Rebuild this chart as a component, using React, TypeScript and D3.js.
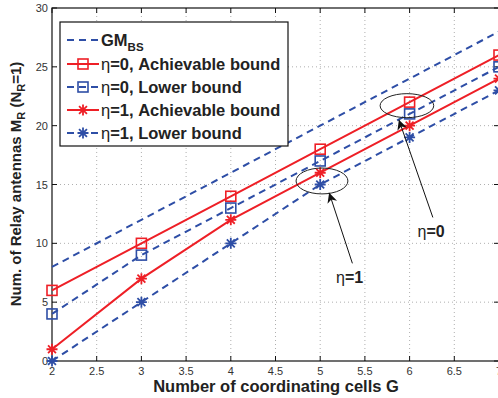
import { useEffect, useRef } from "react";
import * as d3 from "d3";

// number of coordinating cells G
const gValues = [2, 3, 4, 5, 6, 7];

// relay antennas per series
const gmBS = [8, 12, 16, 20, 24, 28];
const eta0Achievable = [6, 10, 14, 18, 22, 26];
const eta0Lower = [4, 9, 13, 17, 21, 25];
const eta1Achievable = [1, 7, 12, 16, 20, 24];
const eta1Lower = [0, 5, 10, 15, 19, 23];

const xTicks = [2, 2.5, 3, 3.5, 4, 4.5, 5, 5.5, 6, 6.5, 7];
const yTicks = [0, 5, 10, 15, 20, 25, 30];

const RED = "#ee1f26";
const BLUE = "#2e4ea6";
const FONT = "'Liberation Sans', Arial, Helvetica, sans-serif";

type Series = {
  name: string;
  eta: string;
  values: number[];
  color: string;
  dashed: boolean;
  marker: "none" | "square" | "star";
};

const series: Series[] = [
  { name: "GM", eta: "", values: gmBS, color: BLUE, dashed: true, marker: "none" },
  { name: "=0, Achievable bound", eta: "η", values: eta0Achievable, color: RED, dashed: false, marker: "square" },
  { name: "=0, Lower bound", eta: "η", values: eta0Lower, color: BLUE, dashed: true, marker: "square" },
  { name: "=1, Achievable bound", eta: "η", values: eta1Achievable, color: RED, dashed: false, marker: "star" },
  { name: "=1, Lower bound", eta: "η", values: eta1Lower, color: BLUE, dashed: true, marker: "star" },
];

function drawMarker(g: any, kind: string, cx: number, cy: number, color: string) {
  if (kind === "square") {
    g.append("rect")
      .attr("x", cx - 5)
      .attr("y", cy - 5)
      .attr("width", 10)
      .attr("height", 10)
      .attr("fill", "none")
      .attr("stroke", color)
      .attr("stroke-width", 1.6);
  } else if (kind === "star") {
    const r = 5.5;
    const d = r * 0.72;
    g.append("path")
      .attr(
        "d",
        `M${cx - r},${cy}L${cx + r},${cy}M${cx},${cy - r}L${cx},${cy + r}` +
          `M${cx - d},${cy - d}L${cx + d},${cy + d}M${cx - d},${cy + d}L${cx + d},${cy - d}`
      )
      .attr("stroke", color)
      .attr("stroke-width", 1.8)
      .attr("fill", "none");
  }
}

export default function App() {
  const ref = useRef<SVGSVGElement>(null);

  useEffect(() => {
    const svg = d3.select(ref.current);
    svg.selectAll("*").remove();

    const x = d3.scaleLinear().domain([2, 7]).range([52, 499]);
    const y = d3.scaleLinear().domain([0, 30]).range([361, 8]);

    svg.append("rect").attr("width", 498).attr("height", 398).attr("fill", "#fff");

    // grid
    const grid = svg.append("g").attr("stroke", "#9a9a9a").attr("stroke-width", 0.8).attr("stroke-dasharray", "1,3");
    xTicks.slice(1, -1).forEach((t) => {
      grid.append("line").attr("x1", x(t)).attr("x2", x(t)).attr("y1", y(0)).attr("y2", y(30));
    });
    yTicks.slice(1, -1).forEach((t) => {
      grid.append("line").attr("x1", x(2)).attr("x2", x(7)).attr("y1", y(t)).attr("y2", y(t));
    });

    // frame
    svg.append("rect")
      .attr("x", x(2))
      .attr("y", y(30))
      .attr("width", x(7) - x(2))
      .attr("height", y(0) - y(30))
      .attr("fill", "none")
      .attr("stroke", "#111")
      .attr("stroke-width", 1.2);

    // ticks inward on all sides
    const ticks = svg.append("g").attr("stroke", "#111").attr("stroke-width", 1);
    xTicks.forEach((t) => {
      ticks.append("line").attr("x1", x(t)).attr("x2", x(t)).attr("y1", y(0)).attr("y2", y(0) - 5);
      ticks.append("line").attr("x1", x(t)).attr("x2", x(t)).attr("y1", y(30)).attr("y2", y(30) + 5);
    });
    yTicks.forEach((t) => {
      ticks.append("line").attr("x1", x(2)).attr("x2", x(2) + 5).attr("y1", y(t)).attr("y2", y(t));
      ticks.append("line").attr("x1", x(7)).attr("x2", x(7) - 5).attr("y1", y(t)).attr("y2", y(t));
    });

    // tick labels
    xTicks.forEach((t) => {
      svg.append("text")
        .attr("x", x(t))
        .attr("y", 375)
        .attr("text-anchor", "middle")
        .attr("font-family", FONT)
        .attr("font-size", 11)
        .attr("fill", "#333")
        .text(String(t));
    });
    yTicks.forEach((t) => {
      svg.append("text")
        .attr("x", 48)
        .attr("y", y(t) + 4)
        .attr("text-anchor", "end")
        .attr("font-family", FONT)
        .attr("font-size", 11)
        .attr("fill", "#333")
        .text(String(t));
    });

    // series
    const line = d3
      .line<number>()
      .x((_, i) => x(gValues[i]))
      .y((d) => y(d));

    series.forEach((s) => {
      svg.append("path")
        .datum(s.values)
        .attr("d", line)
        .attr("fill", "none")
        .attr("stroke", s.color)
        .attr("stroke-width", 2)
        .attr("stroke-dasharray", s.dashed ? "7,5" : null);
      const mg = svg.append("g");
      s.values.forEach((v, i) => drawMarker(mg, s.marker, x(gValues[i]), y(v), s.color));
    });

    // annotations
    const defs = svg.append("defs");
    defs.append("marker")
      .attr("id", "arrow")
      .attr("viewBox", "0 0 10 10")
      .attr("refX", 10)
      .attr("refY", 5)
      .attr("markerWidth", 10)
      .attr("markerHeight", 10)
      .attr("markerUnits", "userSpaceOnUse")
      .attr("orient", "auto")
      .append("path")
      .attr("d", "M0,0L10,5L0,10L3,5Z")
      .attr("fill", "#111");

    const ellipses = [
      { cx: 5.97, cy: 21.7, rx: 0.3, ry: 1.02 },
      { cx: 5.02, cy: 15.3, rx: 0.29, ry: 1.1 },
    ];
    ellipses.forEach((e) => {
      svg.append("ellipse")
        .attr("cx", x(e.cx))
        .attr("cy", y(e.cy))
        .attr("rx", x(e.cx + e.rx) - x(e.cx))
        .attr("ry", y(e.cy - e.ry) - y(e.cy))
        .attr("fill", "none")
        .attr("stroke", "#222")
        .attr("stroke-width", 1);
    });

    const arrows = [
      { x1: 6.26, y1: 12.2, x2: 5.88, y2: 20.5 },
      { x1: 5.36, y1: 8.3, x2: 5.1, y2: 14.3 },
    ];
    arrows.forEach((a) => {
      svg.append("line")
        .attr("x1", x(a.x1))
        .attr("y1", y(a.y1))
        .attr("x2", x(a.x2))
        .attr("y2", y(a.y2))
        .attr("stroke", "#111")
        .attr("stroke-width", 1)
        .attr("marker-end", "url(#arrow)");
    });

    const notes = [
      { gx: 6.24, gy: 10.5, label: "=0" },
      { gx: 5.33, gy: 6.6, label: "=1" },
    ];
    notes.forEach((n) => {
      const t = svg.append("text")
        .attr("x", x(n.gx))
        .attr("y", y(n.gy))
        .attr("text-anchor", "middle")
        .attr("font-family", FONT)
        .attr("font-size", 16)
        .attr("fill", "#222");
      t.append("tspan").attr("font-weight", "normal").text("η");
      t.append("tspan").attr("font-weight", "bold").text(n.label);
    });

    // legend
    const lg = svg.append("g");
    lg.append("rect")
      .attr("x", 60)
      .attr("y", 22)
      .attr("width", 228)
      .attr("height", 124)
      .attr("fill", "#fff")
      .attr("stroke", "#111")
      .attr("stroke-width", 1.2);
    const rowY = [40, 64, 87, 110, 133];
    series.forEach((s, i) => {
      const ry = rowY[i];
      lg.append("line")
        .attr("x1", 67)
        .attr("x2", 99)
        .attr("y1", ry)
        .attr("y2", ry)
        .attr("stroke", s.color)
        .attr("stroke-width", 2)
        .attr("stroke-dasharray", s.dashed ? "7,5" : null);
      drawMarker(lg, s.marker, 83, ry, s.color);
      const t = lg.append("text")
        .attr("x", 101)
        .attr("y", ry + 5.5)
        .attr("font-family", FONT)
        .attr("font-size", 16.5)
        .attr("fill", "#222");
      if (s.eta) {
        t.append("tspan").attr("font-weight", "normal").text(s.eta);
        t.append("tspan").attr("font-weight", "bold").text(s.name);
      } else {
        t.append("tspan").attr("font-weight", "bold").text(s.name);
        t.append("tspan").attr("font-weight", "bold").attr("font-size", 11.5).attr("dy", 5).text("BS");
      }
    });

    // axis titles
    svg.append("text")
      .attr("x", 276)
      .attr("y", 392)
      .attr("text-anchor", "middle")
      .attr("font-family", FONT)
      .attr("font-size", 16.5)
      .attr("font-weight", "bold")
      .attr("fill", "#222")
      .text("Number of coordinating cells G");

    const yl = svg.append("text")
      .attr("transform", "translate(21,184) rotate(-90)")
      .attr("text-anchor", "middle")
      .attr("font-family", FONT)
      .attr("font-size", 15)
      .attr("font-weight", "bold")
      .attr("fill", "#222");
    yl.append("tspan").text("Num. of Relay antennas M");
    yl.append("tspan").attr("font-size", 11).attr("dy", 4).text("R");
    yl.append("tspan").attr("dy", -4).text(" (N");
    yl.append("tspan").attr("font-size", 11).attr("dy", 4).text("R");
    yl.append("tspan").attr("dy", -4).text("=1)");
  }, []);

  return (
    <svg
      ref={ref}
      width={498}
      height={398}
      style={{ position: "absolute", left: 0, top: 0, display: "block" }}
    />
  );
}
